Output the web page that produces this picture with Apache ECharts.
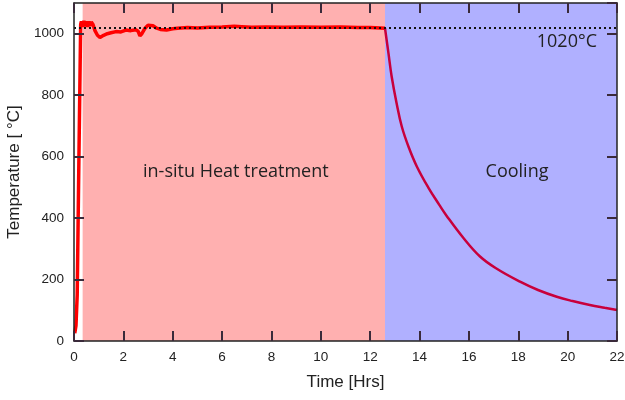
<!DOCTYPE html>
<html><head><meta charset="utf-8">
<script src="https://cdn.jsdelivr.net/npm/echarts@6/dist/echarts.min.js"></script>
<style>html,body{margin:0;padding:0;background:#fff}#c{width:625px;height:400px}</style>
</head><body><div id="c"></div>
<script>
const heatTime = [0.03,0.08,0.13,0.2,0.27,0.3,0.35,0.4,0.45,0.5,0.55,0.6,0.65,0.7,0.77,0.85,0.95,1.05,1.2,1.35,1.5,1.7,1.9,2.1,2.3,2.5,2.6,2.67,2.75,2.88,3.0,3.08,3.2,3.35,3.5,3.75,4.0,4.2,4.6,5.0,5.5,6.0,6.5,6.8,7.2,7.8,8.5,9.2,10.0,10.8,11.5,12.0,12.4,12.6];
const heatTemp = [25,50,150,600,1030,1040,1022,1042,1024,1040,1022,1040,1025,1038,1030,1010,995,988,995,1000,1003,1007,1006,1012,1010,1013,1008,993,1000,1018,1028,1033,1026,1018,1014,1012,1016,1018,1020,1019,1021,1022,1024,1023,1021,1022,1021,1022,1021,1022,1020,1020,1019,1018];
const coolTime = [12.6,12.74,12.87,13.07,13.28,13.55,13.89,14.35,14.8,15.1,15.77,16.45,17.13,18.07,18.8,19.56,20.2,20.9,21.5,22];
const coolTemp = [1018,937,861,774,698,633,568,500,443,407,336,275,235,193,166,144,130,117,108,101];
const heatRange = [0.35, 12.6];
const coolRange = [12.6, 22];
const setPoint = 1020;
const xTicks = {min:0, max:22, interval:2};
const yTicks = {min:0, max:1100, interval:200};

const heat = heatTime.map((t,i)=>[t,heatTemp[i]]);
const cool = coolTime.map((t,i)=>[t,coolTemp[i]]);
const axisCol = '#222';
function tickFont(){ return {fontFamily:'Liberation Sans', fontSize:13.5, color:'#222'}; }
function axis(extra, ticks){
  return Object.assign({
    type:'value', min:ticks.min, max:ticks.max, interval:ticks.interval,
    zlevel:1, z:10,
    axisLine:{show:true, onZero:false, lineStyle:{color:axisCol, width:1.5}},
    axisTick:{show:true, inside:true, length:10, lineStyle:{color:'#3a2a3a', width:2}},
    splitLine:{show:false},
    axisLabel:{show:false}
  }, extra);
}

const chart = echarts.init(document.getElementById('c'));
chart.setOption({
  animation:false,
  grid:{left:74, right:8, top:3, bottom:59, outerBoundsMode:'none', containLabel:false},
  xAxis:[
    axis({position:'bottom', name:'Time [Hrs]', nameLocation:'middle', nameGap:33,
     nameTextStyle:{fontFamily:'Liberation Sans', fontSize:17, color:'#222'},
     axisLabel:Object.assign({show:true, margin:9}, tickFont())}, xTicks),
    axis({position:'top'}, xTicks)
  ],
  yAxis:[
    axis({position:'left', name:'Temperature [ °C]', nameLocation:'middle', nameGap:46, nameRotate:90,
     nameTextStyle:{fontFamily:'Liberation Sans', fontSize:17, color:'#222'},
     axisLabel:Object.assign({show:true, margin:10, showMaxLabel:false, formatter:v=>String(v)}, tickFont())}, yTicks),
    axis({position:'right'}, yTicks)
  ],
  series:[
    {type:'line', data:heat, showSymbol:false, z:3,
     lineStyle:{color:'#ff0000', width:3.5},
     markArea:{silent:true, z:1,
       label:{fontFamily:'Open Sans', fontSize:18, color:'#222', position:'inside'},
       data:[
        [{xAxis:heatRange[0], yAxis:yTicks.min, name:'in-situ Heat treatment', itemStyle:{color:'rgba(255,58,58,0.4)'}, label:{offset:[2,0]}},
         {xAxis:heatRange[1], yAxis:yTicks.max}],
        [{xAxis:coolRange[0], yAxis:yTicks.min, name:'Cooling', itemStyle:{color:'rgba(58,58,255,0.4)'}, label:{offset:[16,0]}},
         {xAxis:coolRange[1], yAxis:yTicks.max}]
     ]}},
    {type:'line', data:cool, showSymbol:false, smooth:0.4, z:3,
     lineStyle:{color:'#c8003c', width:2.5},
     markLine:{silent:true, symbol:'none', z:4,
       lineStyle:{type:[2,3], color:'#111', width:2},
       label:{position:'insideEndBottom', formatter:'1020°C', fontFamily:'Open Sans', fontSize:18, color:'#222', distance:[20,5]},
       data:[{yAxis:setPoint}]}}
  ]
});
</script></body></html>
